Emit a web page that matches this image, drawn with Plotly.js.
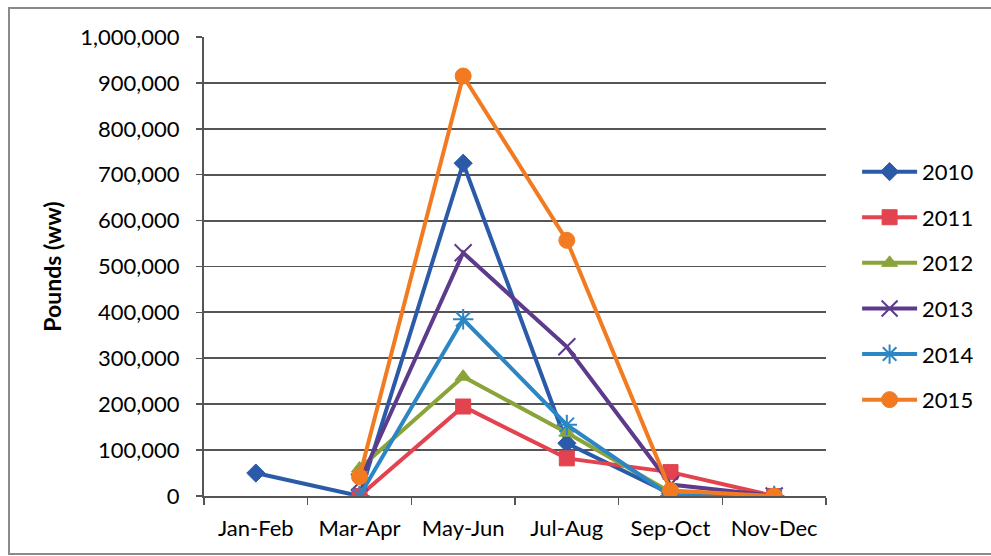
<!DOCTYPE html>
<html>
<head>
<meta charset="utf-8">
<script src="https://cdn.plot.ly/plotly-3.0.1.min.js"></script>
<style>
  html, body { margin: 0; padding: 0; background: #fff; }
  #wrap { position: relative; width: 991px; height: 556px; overflow: hidden; }
  #chart { position: absolute; left: 0; top: 0; width: 991px; height: 556px; }
  #frame { position: absolute; left: 8px; top: 7px; width: 1000px; height: 544px; border: 2px solid #8a8a8a; pointer-events: none; }
</style>
</head>
<body>
<div id="wrap">
  <div id="frame"></div>
  <div id="chart"></div>
</div>
<script>
const categories = ["Jan-Feb", "Mar-Apr", "May-Jun", "Jul-Aug", "Sep-Oct", "Nov-Dec"];
const years = ["2010", "2011", "2012", "2013", "2014", "2015"];

const v2010 = [50000, 0, 725000, 115000, 5000, 0];
const v2011 = [null, 0, 195000, 82000, 52000, 0];
const v2012 = [null, 60000, 260000, 138000, 8000, 0];
const v2013 = [null, 30000, 530000, 325000, 25000, 0];
const v2014 = [null, 0, 385000, 155000, 0, 0];
const v2015 = [null, 42000, 915000, 557000, 12000, 0];

const yTicks = [0, 100000, 200000, 300000, 400000, 500000, 600000, 700000, 800000, 900000, 1000000];

const seriesValues = [v2010, v2011, v2012, v2013, v2014, v2015];
const colors = ["#2B5BA8", "#E2434F", "#8BA43A", "#5E3A8C", "#2C86C4", "#F27B21"];
const symbols = ["diamond", "square", "triangle-up", "x-thin-open", "asterisk-open", "circle"];
const sizes = [14, 15, 14, 17, 17, 16];

const traces = years.map((yr, i) => ({
  type: "scatter",
  mode: "lines+markers",
  name: yr,
  legendgroup: yr,
  x: categories,
  y: seriesValues[i],
  connectgaps: false,
  line: { color: colors[i], width: 4 },
  marker: {
    symbol: symbols[i],
    size: sizes[i],
    color: colors[i],
    line: { color: colors[i], width: (symbols[i].indexOf("open") >= 0 ? 2 : 1) }
  }
}));

const layout = {
  width: 991,
  height: 556,
  margin: { l: 204, r: 158, t: 37, b: 60 },
  paper_bgcolor: "rgba(0,0,0,0)",
  plot_bgcolor: "#fff",
  font: { family: "Lato, 'Liberation Sans', sans-serif", color: "#000" },
  showlegend: true,
  legend: {
    x: 1.05, xanchor: "left",
    y: 0.752, yanchor: "top",
    traceorder: "grouped",
    tracegroupgap: 14,
    font: { size: 22, color: "#000" },
    itemwidth: 55,
    bgcolor: "rgba(0,0,0,0)"
  },
  xaxis: {
    type: "category",
    categoryorder: "array",
    categoryarray: categories,
    range: [-0.5, 5.5],
    showgrid: false,
    showline: true,
    linecolor: "#555",
    linewidth: 2,
    ticks: "outside",
    tickson: "boundaries",
    ticklen: 7,
    tickwidth: 1.5,
    tickcolor: "#555",
    ticklabelstandoff: 12,
    tickfont: { size: 22, color: "#000" },
    zeroline: false
  },
  yaxis: {
    range: [0, 1000000],
    tickvals: yTicks,
    ticktext: yTicks.map(v => v.toLocaleString("en-US")),
    showgrid: true,
    gridcolor: "#555",
    gridwidth: 1.8,
    showline: true,
    linecolor: "#555",
    linewidth: 2,
    ticks: "outside",
    ticklen: 6,
    tickwidth: 1.5,
    tickcolor: "#555",
    ticklabelstandoff: 12,
    tickfont: { size: 22, color: "#000" },
    zeroline: false,
    title: { text: "<b>Pounds (ww)</b>", font: { size: 23, color: "#000" }, standoff: 12 }
  }
};

Plotly.newPlot("chart", traces, layout, { displayModeBar: false, staticPlot: true });
</script>
</body>
</html>
